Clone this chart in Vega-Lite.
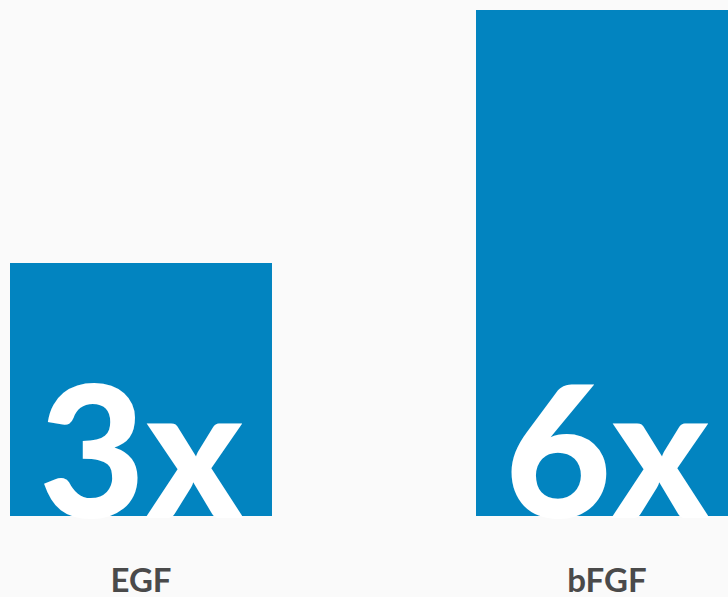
{
  "$schema": "https://vega.github.io/schema/vega-lite/v6.json",
  "width": 728,
  "height": 506,
  "autosize": "none",
  "padding": {"top": 10, "bottom": 81, "left": 0, "right": 0},
  "background": "#fafafa",
  "config": {"view": {"stroke": null}},
  "data": {"values": [
    {"factor": "EGF", "fold": 3, "label": "3x"},
    {"factor": "bFGF", "fold": 6, "label": "6x"}
  ]},
  "encoding": {
    "x": {
      "field": "factor", "type": "nominal", "sort": null,
      "scale": {"range": [0, 748], "paddingInner": 0.4378, "paddingOuter": 0.02146},
      "axis": {"title": null, "ticks": false, "domain": false, "labelAngle": 0,
        "labelFont": "Lato", "labelFontSize": 33, "labelFontWeight": "bold",
        "labelColor": "#4a4a4a", "labelBaseline": "alphabetic", "labelPadding": 75}
    }
  },
  "layer": [
    {
      "mark": {"type": "bar", "color": "#0284c0"},
      "encoding": {
        "y": {"field": "fold", "type": "quantitative", "scale": {"domain": [0, 6], "nice": false}, "axis": null}
      }
    },
    {
      "mark": {"type": "text", "color": "white", "font": "Lato", "fontWeight": 900, "fontSize": 184, "baseline": "alphabetic", "align": "center", "dy": 2},
      "encoding": {
        "y": {"datum": 0, "type": "quantitative"},
        "text": {"field": "label"}
      }
    }
  ]
}
